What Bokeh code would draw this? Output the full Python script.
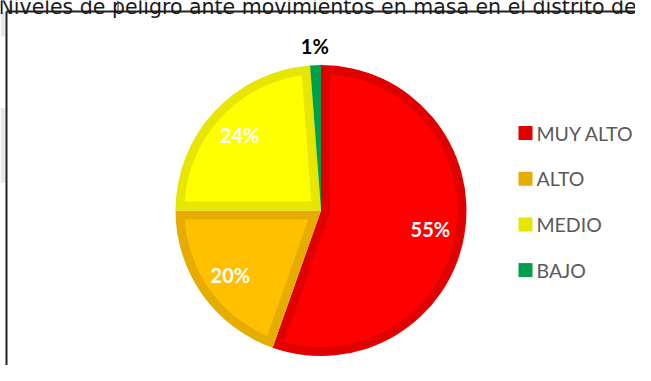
import numpy as np
from bokeh.plotting import figure
from bokeh.models import Range1d, ColumnDataSource
from bokeh.core.properties import value
from bokeh.embed import file_html
from bokeh.resources import INLINE

# ---- data ----
title_text = "Niveles de peligro ante movimientos en masa en el distrito de"
categories = ["MUY ALTO", "ALTO", "MEDIO", "BAJO"]
percent = [55.4, 19.6, 23.8, 1.2]
labels = ["55%", "20%", "24%", "1%"]
fill_colors = ["#FF0000", "#FFC000", "#FFFF00", "#00B050"]
border_colors = ["#E00000", "#E6AC00", "#E6E600", "#00A04A"]

# ---- layout ----
W, H = 635, 365


def Y(sy):
    return H - sy


p = figure(width=W, height=H, x_range=Range1d(0, W), y_range=Range1d(0, H),
           output_backend="svg", toolbar_location=None, min_border=0)
p.axis.visible = False
p.grid.visible = False
p.outline_line_color = None
p.background_fill_color = "white"
p.border_fill_color = "white"

cx, cy = 320.5, Y(210)
R = 145.5
d = 9.0

vals = np.array(percent, dtype=float)
frac = vals / vals.sum()
cum = np.concatenate([[0.0], np.cumsum(frac)])
start = np.pi / 2 - 2 * np.pi * cum[1:]
end = np.pi / 2 - 2 * np.pi * cum[:-1]

src = ColumnDataSource(dict(start=start, end=end, border=border_colors, fill=fill_colors))
p.wedge(x=cx, y=cy, radius=R, start_angle="start", end_angle="end",
        fill_color="border", line_color=None, source=src)


def inset(a, b):
    s = b - a
    r = R - d
    phi = np.arcsin(d / r)
    if s <= 2 * phi:
        return None
    t = np.linspace(a + phi, b - phi, 200)
    xs = list(r * np.cos(t))
    ys = list(r * np.sin(t))
    if s < np.pi:
        h = d / np.sin(s / 2)
        if h >= r:
            return None
        m = (a + b) / 2
        xs = [h * np.cos(m)] + xs
        ys = [h * np.sin(m)] + ys
    else:
        t2 = np.linspace(b - np.pi / 2, a + np.pi / 2, 20)
        xs += list(d * np.cos(t2))
        ys += list(d * np.sin(t2))
    return [cx + x for x in xs], [cy + y for y in ys]


pxs, pys, pcol = [], [], []
for a, b, c in zip(start, end, fill_colors):
    res = inset(a, b)
    if res is not None:
        pxs.append(res[0])
        pys.append(res[1])
        pcol.append(c)
p.patches(pxs, pys, fill_color=pcol, line_color=None)

# data labels
mid = (start + end) / 2
inside = frac > 0.05
lr = np.where(inside, 111.0, 165.0)
lab_src = ColumnDataSource(dict(
    x=cx + lr * np.cos(mid), y=cy + lr * np.sin(mid), text=labels,
    color=["white" if i else "black" for i in inside]))
p.text(x="x", y="y", text="text", text_color="color", source=lab_src,
       text_font=value("Lato"), text_font_style="bold", text_font_size="20px",
       text_align="center", text_baseline="middle")

# legend
n = len(categories)
leg_y = [Y(132.5 + i * 45.7) for i in range(n)]
p.rect(x=[525] * n, y=leg_y, width=14, height=14, fill_color=border_colors, line_color=None)
p.text(x=[536] * n, y=leg_y, text=categories, text_color="#595959",
       text_font=value("Lato"), text_font_size="19.5px",
       text_align="left", text_baseline="middle")

# surrounding document frame, faint shadow and cut-off title
p.rect(x=[2.5, 2.5], y=[Y(24), Y(145)], width=5, height=[24, 75],
       fill_color="#d8d8d8", fill_alpha=0.6, line_color=None)
p.line(x=[6, W], y=[Y(11), Y(11)], line_color="#222222", line_width=2)
p.line(x=[6, 6], y=[Y(11), 0], line_color="#222222", line_width=2)
p.line(x=[117.5, 117.5], y=[Y(0), Y(11)], line_color="#222222", line_width=1)
p.text(x=[-2], y=[Y(6)], text=[title_text], text_color="#1a1a1a",
       text_font=value("DejaVu Sans"), text_font_size="20.5px",
       text_align="left", text_baseline="alphabetic")

open("out.html", "w").write(file_html(p, INLINE))
